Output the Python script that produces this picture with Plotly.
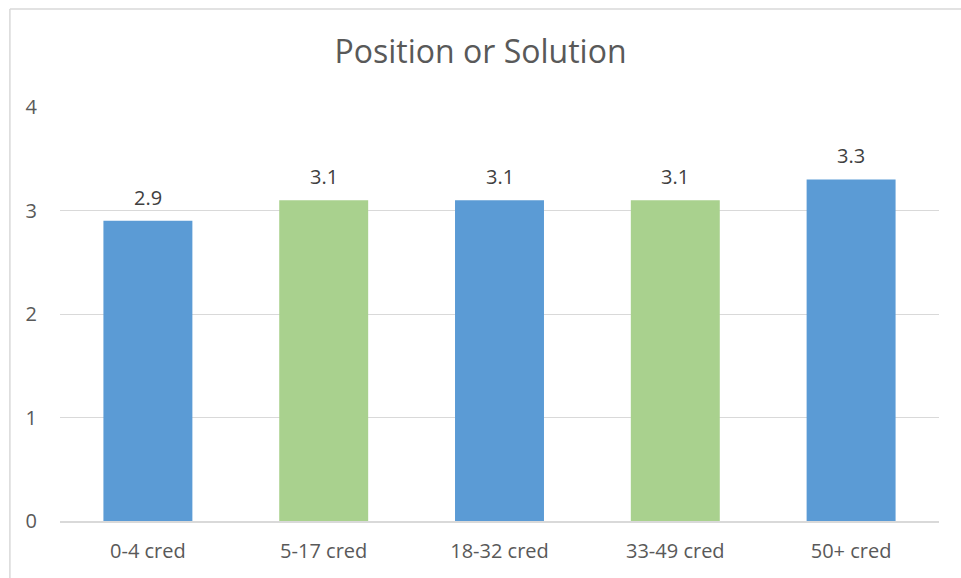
import plotly.graph_objects as go

categories = ["0-4 cred", "5-17 cred", "18-32 cred", "33-49 cred", "50+ cred"]
values = [2.9, 3.1, 3.1, 3.1, 3.3]
bar_colors = ["#5B9BD5", "#A9D18E", "#5B9BD5", "#A9D18E", "#5B9BD5"]
y_ticks = [0, 1, 2, 3, 4]
title_text = "Position or Solution"

FONT = "Open Sans, Calibri, sans-serif"

fig = go.Figure(
    go.Bar(
        x=categories,
        y=values,
        marker=dict(color=bar_colors, line=dict(width=0)),
        hoverinfo="skip",
    )
)

# value labels sitting above each bar
for cat, val in zip(categories, values):
    fig.add_annotation(
        x=cat, y=val, text=f"{val:.1f}", showarrow=False,
        yanchor="bottom", yshift=8,
        font=dict(family=FONT, size=20, color="#404040"),
    )

# chart frame (left and top edges)
fig.add_shape(type="line", xref="paper", yref="paper",
              x0=-0.057, x1=-0.057, y0=-0.3, y1=1.237,
              line=dict(color="#d9d9d9", width=1.5))
fig.add_shape(type="line", xref="paper", yref="paper",
              x0=-0.057, x1=1.2, y0=1.237, y1=1.237,
              line=dict(color="#d9d9d9", width=1.5))

fig.update_layout(
    width=961, height=578,
    margin=dict(l=60, r=22, t=107, b=57),
    paper_bgcolor="white", plot_bgcolor="white",
    bargap=0.494,
    showlegend=False,
    title=dict(text=title_text, x=0.5, xanchor="center", y=0.91, yanchor="middle",
               font=dict(family=FONT, size=32, color="#595959")),
    font=dict(family=FONT, size=20, color="#595959"),
    xaxis=dict(showgrid=False, showline=True, linecolor="#d9d9d9", linewidth=1.5,
               ticks="", ticklabelstandoff=11,
               tickfont=dict(family=FONT, size=20, color="#595959")),
    yaxis=dict(range=[0, 4], tickvals=y_ticks, showgrid=True, gridcolor="#d9d9d9",
               gridwidth=1, zeroline=False, showline=False, ticks="",
               ticklabelstandoff=22,
               tickfont=dict(family=FONT, size=20, color="#595959")),
)

fig.write_html("out.html")
